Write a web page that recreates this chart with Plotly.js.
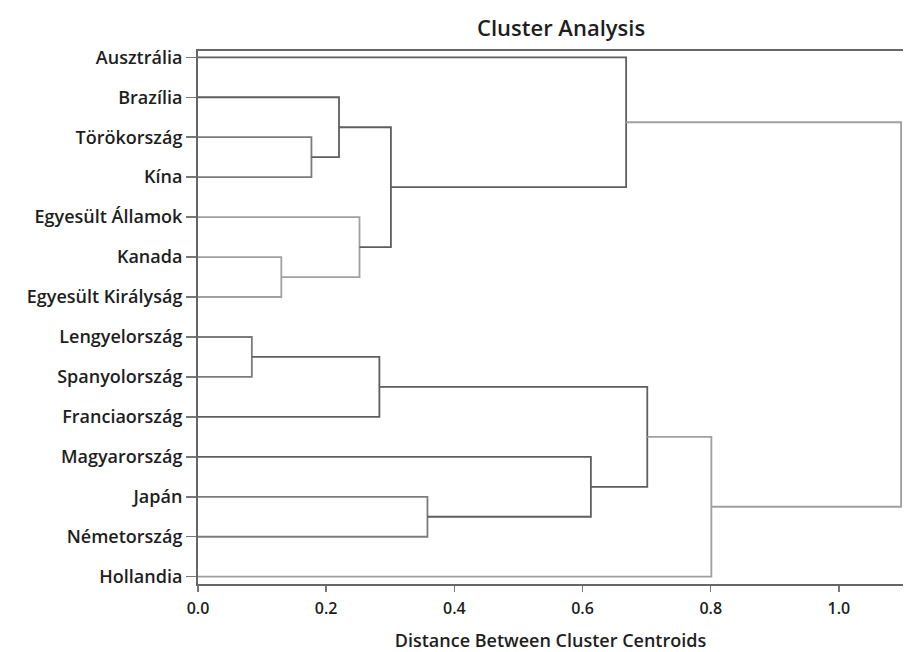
<!DOCTYPE html>
<html>
<head>
<meta charset="utf-8">
<script src="https://cdn.plot.ly/plotly-3.0.1.min.js"></script>
<style>html,body{margin:0;padding:0;background:#fff;}#chart{width:905px;height:652px;}</style>
</head>
<body>
<div id="chart"></div>
<script>
// Leaves, top to bottom
const leafLabels = ["Ausztrália","Brazília","Törökország","Kína","Egyesült Államok","Kanada","Egyesült Királyság","Lengyelország","Spanyolország","Franciaország","Magyarország","Japán","Németország","Hollandia"];
// Merge steps (node ids: leaves 0..13, merges 14..26)
const mergeLeft   = [7, 5, 2, 1, 4, 14, 17, 11, 10, 0, 19, 24, 23];
const mergeRight  = [8, 6, 3, 16, 15, 9, 18, 12, 21, 20, 22, 13, 25];
const mergeHeight = [0.084, 0.130, 0.177, 0.220, 0.252, 0.283, 0.301, 0.358, 0.613, 0.668, 0.701, 0.801, 1.097];
// shade per merge link (0 dark, 1 medium, 2 light)
const mergeShade  = [1, 2, 1, 0, 2, 0, 0, 1, 0, 0, 0, 2, 2];
const xTickVals = [0, 0.2, 0.4, 0.6, 0.8, 1.0];
const xTickText = ["0.0","0.2","0.4","0.6","0.8","1.0"];

const n = leafLabels.length;
const shades = ["#5e5e5e", "#7c7c7c", "#a0a0a0"];
const nodeX = [], nodeY = [];
for (let i = 0; i < n; i++) { nodeX.push(0); nodeY.push(n - i); }
const traces = [];
for (let k = 0; k < mergeHeight.length; k++) {
  const a = mergeLeft[k], b = mergeRight[k], h = mergeHeight[k];
  traces.push({
    type: "scatter", mode: "lines", hoverinfo: "skip", showlegend: false,
    x: [nodeX[a], h, h, nodeX[b]],
    y: [nodeY[a], nodeY[a], nodeY[b], nodeY[b]],
    line: {color: shades[mergeShade[k]], width: 1.8, shape: "linear"}
  });
  nodeX.push(h); nodeY.push((nodeY[a] + nodeY[b]) / 2);
}

const tickVals = leafLabels.map((_, i) => n - i);
const font = "Open Sans, Noto Sans, sans-serif";
const layout = {
  width: 905, height: 652,
  margin: {l: 198, r: 2, t: 51, b: 68},
  paper_bgcolor: "#fff", plot_bgcolor: "#fff",
  title: {text: "Cluster Analysis", font: {family: font, size: 22, weight: 600, color: "#1e1e1e"},
          xref: "paper", x: 0.515, xanchor: "center", yref: "container", y: 0.957, yanchor: "middle"},
  xaxis: {range: [0, 1.1], tickvals: xTickVals, ticktext: xTickText, ticks: "outside", ticklen: 6, tickwidth: 1.5,
          tickcolor: "#777", showline: true, linecolor: "#666", linewidth: 2, mirror: true, showgrid: false, zeroline: false,
          ticklabelstandoff: 3,
          tickfont: {family: font, size: 16, weight: 600, color: "#1e1e1e"},
          title: {text: "Distance Between Cluster Centroids", font: {family: font, size: 18, weight: 600, color: "#1e1e1e"}, standoff: 20}},
  yaxis: {range: [0.817, 14.158], tickvals: tickVals, ticktext: leafLabels, ticks: "outside", ticklen: 10, tickwidth: 1.5,
          tickcolor: "#777", showline: true, linecolor: "#666", linewidth: 2, showgrid: false, zeroline: false,
          tickfont: {family: font, size: 18, weight: 600, color: "#1e1e1e"}}
};
Plotly.newPlot("chart", traces, layout, {displayModeBar: false, staticPlot: true});
</script>
</body>
</html>
